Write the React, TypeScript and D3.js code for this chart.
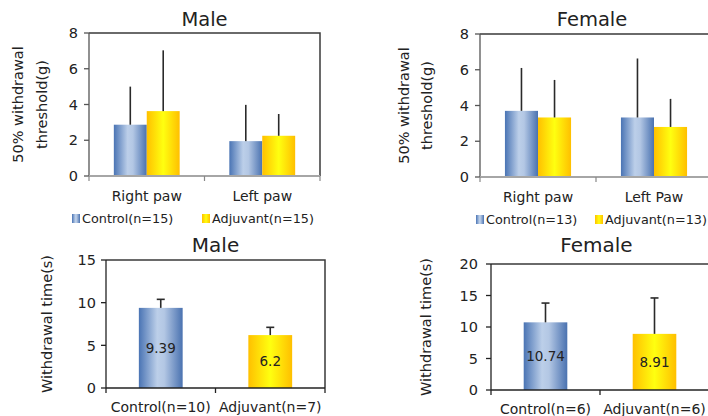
import * as d3 from "d3";

// top row: 50% withdrawal threshold (g)
const pawCategories = ["Right paw", "Left paw"];
const pawCategoriesF = ["Right paw", "Left Paw"];
const maleControl = [2.87, 1.95];
const maleControlErr = [2.13, 2.03];
const maleAdjuvant = [3.63, 2.25];
const maleAdjuvantErr = [3.4, 1.22];
const femaleControl = [3.7, 3.33];
const femaleControlErr = [2.4, 3.3];
const femaleAdjuvant = [3.33, 2.8];
const femaleAdjuvantErr = [2.1, 1.57];

// bottom row: withdrawal time (s)
const maleTimeGroups = ["Control(n=10)", "Adjuvant(n=7)"];
const maleTime = [9.39, 6.2];
const maleTimeErr = [1.0, 0.91];
const femaleTimeGroups = ["Control(n=6)", "Adjuvant(n=6)"];
const femaleTime = [10.74, 8.91];
const femaleTimeErr = [3.06, 5.7];

const FONT = "'DejaVu Sans', Verdana, sans-serif";
const TXT = "#222";

interface PawProps {
  title: string;
  cats: string[];
  ctrl: number[];
  ctrlErr: number[];
  adj: number[];
  adjErr: number[];
  legendCtrl: string;
  legendAdj: string;
  x0: number;
  x1: number;
  y0: number;
  y1: number;
  legendX: [number, number];
  labelX: [number, number];
}

function Defs() {
  return (
    <defs>
      <linearGradient id="gBlue" x1="0" x2="1" y1="0" y2="0">
        <stop offset="0%" stopColor="#4a74b4" />
        <stop offset="42%" stopColor="#bccfe9" />
        <stop offset="58%" stopColor="#b3c7e4" />
        <stop offset="100%" stopColor="#4a72b0" />
      </linearGradient>
      <linearGradient id="gYellow" x1="0" x2="1" y1="0" y2="0">
        <stop offset="0%" stopColor="#ffc000" />
        <stop offset="50%" stopColor="#ffff10" />
        <stop offset="100%" stopColor="#ffbf00" />
      </linearGradient>
    </defs>
  );
}

function PawPanel(p: PawProps) {
  const x = d3.scaleBand<string>().domain(p.cats).range([p.x0, p.x1]).padding(0);
  const y = d3.scaleLinear().domain([0, 8]).range([p.y1, p.y0]);
  const groupW = x.bandwidth() * 0.57;
  const sub = d3.scaleBand<string>().domain(["c", "a"]).range([0, groupW]).padding(0);
  const ticks = d3.range(0, 9, 2);
  const series = [
    { key: "c", vals: p.ctrl, err: p.ctrlErr, fill: "url(#gBlue)" },
    { key: "a", vals: p.adj, err: p.adjErr, fill: "url(#gYellow)" },
  ];
  return (
    <g fontFamily={FONT}>
      <text x={(p.x0 + Math.min(p.x1, 708)) / 2 + (p.x1 > 708 ? -2 : 0)} y={26} textAnchor="middle" fontSize={19.5} fill={TXT}>
        {p.title}
      </text>
      {/* frame */}
      <path d={`M${p.x0},${p.y0}H${p.x1}V${p.y1}`} fill="none" stroke="#3a3a3a" strokeWidth={1.5} />
      {series.map((s) =>
        p.cats.map((c, i) => {
          const bx = (x(c) as number) + (x.bandwidth() - groupW) / 2 + (sub(s.key) as number);
          return (
            <rect key={s.key + c} x={bx} y={y(s.vals[i])} width={sub.bandwidth()} height={y(0) - y(s.vals[i])} fill={s.fill} />
          );
        })
      )}
      {series.map((s) =>
        p.cats.map((c, i) => {
          const cx = (x(c) as number) + (x.bandwidth() - groupW) / 2 + (sub(s.key) as number) + sub.bandwidth() / 2;
          return (
            <line key={"e" + s.key + c} x1={cx} x2={cx} y1={y(s.vals[i])} y2={y(s.vals[i] + s.err[i])} stroke="#2a2a2a" strokeWidth={1.6} />
          );
        })
      )}
      {/* y axis */}
      <line x1={p.x0} x2={p.x0} y1={p.y0} y2={p.y1} stroke="#555" strokeWidth={1.3} />
      {ticks.map((t) => (
        <g key={t}>
          <line x1={p.x0 - 5} x2={p.x0} y1={y(t)} y2={y(t)} stroke="#555" strokeWidth={1.3} />
          <text x={p.x0 - 11} y={y(t)} dy="0.36em" textAnchor="end" fontSize={14.5} fill={TXT}>
            {t}
          </text>
        </g>
      ))}
      {/* x axis */}
      <line x1={p.x0} x2={p.x1} y1={p.y1} y2={p.y1} stroke="#a6a6a6" strokeWidth={1.8} />
      {[...p.cats.map((c) => x(c) as number), p.x1].map((v, i) => (
        <line key={"t" + i} x1={v} x2={v} y1={p.y1} y2={p.y1 + 5} stroke="#888" strokeWidth={1.2} />
      ))}
      {p.cats.map((c) => (
        <text key={"l" + c} x={(x(c) as number) + x.bandwidth() / 2} y={p.y1 + 25} textAnchor="middle" fontSize={14} fill={TXT}>
          {c}
        </text>
      ))}
      {/* y label */}
      <text transform={`translate(${p.labelX[0]},${(p.y0 + p.y1) / 2}) rotate(-90)`} textAnchor="middle" fontSize={14.5} fill={TXT} dy="0.35em">
        50% withdrawal
      </text>
      <text transform={`translate(${p.labelX[1]},${(p.y0 + p.y1) / 2}) rotate(-90)`} textAnchor="middle" fontSize={14.5} fill={TXT} dy="0.35em">
        threshold(g)
      </text>
      {/* legend */}
      <rect x={p.legendX[0]} y={p.y1 + 38} width={8} height={9} fill="url(#gBlue)" />
      <text x={p.legendX[0] + 10} y={p.y1 + 42.5} dy="0.35em" fontSize={12.8} fill={TXT}>
        {p.legendCtrl}
      </text>
      <rect x={p.legendX[1]} y={p.y1 + 38} width={8} height={9} fill="url(#gYellow)" />
      <text x={p.legendX[1] + 10} y={p.y1 + 42.5} dy="0.35em" fontSize={12.8} fill={TXT}>
        {p.legendAdj}
      </text>
    </g>
  );
}

interface TimeProps {
  title: string;
  groups: string[];
  vals: number[];
  err: number[];
  ymax: number;
  x0: number;
  x1: number;
  y0: number;
  y1: number;
  labelX: number;
  tickLabelX: number;
}

function TimePanel(p: TimeProps) {
  const x = d3.scaleBand<string>().domain(p.groups).range([p.x0, p.x1]).padding(0);
  const y = d3.scaleLinear().domain([0, p.ymax]).range([p.y1, p.y0]);
  const barW = x.bandwidth() * 0.4;
  const fills = ["url(#gBlue)", "url(#gYellow)"];
  const ticks = d3.range(0, p.ymax + 1, 5);
  return (
    <g fontFamily={FONT}>
      <text x={(p.x0 + Math.min(p.x1, 708)) / 2 + (p.x1 > 708 ? -3 : 0)} y={252} textAnchor="middle" fontSize={20} fill={TXT}>
        {p.title}
      </text>
      <path d={`M${p.x0},${p.y0}H${p.x1}V${p.y1}`} fill="none" stroke="#3a3a3a" strokeWidth={1.5} />
      {p.groups.map((g, i) => {
        const cx = (x(g) as number) + x.bandwidth() / 2;
        return (
          <g key={g}>
            <rect x={cx - barW / 2} y={y(p.vals[i])} width={barW} height={y(0) - y(p.vals[i])} fill={fills[i]} />
            <line x1={cx} x2={cx} y1={y(p.vals[i])} y2={y(p.vals[i] + p.err[i])} stroke="#2a2a2a" strokeWidth={1.6} />
            <line x1={cx - 4} x2={cx + 4} y1={y(p.vals[i] + p.err[i])} y2={y(p.vals[i] + p.err[i])} stroke="#2a2a2a" strokeWidth={1.6} />
            <text x={cx} y={y(p.vals[i] / 2)} dy="0.35em" textAnchor="middle" fontSize={13.5} fill={TXT}>
              {p.vals[i]}
            </text>
            <text x={cx} y={p.y1 + 24} textAnchor="middle" fontSize={14} fill={TXT}>
              {g}
            </text>
          </g>
        );
      })}
      <line x1={p.x0} x2={p.x0} y1={p.y0} y2={p.y1} stroke="#222" strokeWidth={1.3} />
      {ticks.map((t) => (
        <g key={t}>
          <line x1={p.x0 - 5} x2={p.x0} y1={y(t)} y2={y(t)} stroke="#222" strokeWidth={1.3} />
          <text x={p.tickLabelX} y={y(t)} dy="0.36em" textAnchor="end" fontSize={14.5} fill={TXT}>
            {t}
          </text>
        </g>
      ))}
      <line x1={p.x0} x2={p.x1} y1={p.y1} y2={p.y1} stroke="#222" strokeWidth={1.5} />
      {[...p.groups.map((g) => x(g) as number), p.x1].map((v, i) => (
        <line key={"t" + i} x1={v} x2={v} y1={p.y1} y2={p.y1 + 5} stroke="#222" strokeWidth={1.3} />
      ))}
      <text transform={`translate(${p.labelX},${(p.y0 + p.y1) / 2}) rotate(-90)`} textAnchor="middle" fontSize={14.5} fill={TXT} dy="0.35em">
        Withdrawal time(s)
      </text>
    </g>
  );
}

export default function App() {
  return (
    <svg width={708} height={416} style={{ position: "fixed", left: 0, top: 0, background: "#fff" }}>
      <Defs />
      <rect width={708} height={416} fill="#fff" />
      <PawPanel
        title="Male"
        cats={pawCategories}
        ctrl={maleControl}
        ctrlErr={maleControlErr}
        adj={maleAdjuvant}
        adjErr={maleAdjuvantErr}
        legendCtrl="Control(n=15)"
        legendAdj="Adjuvant(n=15)"
        x0={89}
        x1={320}
        y0={33}
        y1={176}
        legendX={[72, 202]}
        labelX={[18, 42]}
      />
      <PawPanel
        title="Female"
        cats={pawCategoriesF}
        ctrl={femaleControl}
        ctrlErr={femaleControlErr}
        adj={femaleAdjuvant}
        adjErr={femaleAdjuvantErr}
        legendCtrl="Control(n=13)"
        legendAdj="Adjuvant(n=13)"
        x0={480}
        x1={712}
        y0={34}
        y1={177}
        legendX={[476, 595]}
        labelX={[404, 427]}
      />
      <TimePanel
        title="Male"
        groups={maleTimeGroups}
        vals={maleTime}
        err={maleTimeErr}
        ymax={15}
        x0={106}
        x1={325}
        y0={260}
        y1={388}
        labelX={47}
        tickLabelX={96}
      />
      <TimePanel
        title="Female"
        groups={femaleTimeGroups}
        vals={femaleTime}
        err={femaleTimeErr}
        ymax={20}
        x0={491}
        x1={709}
        y0={264}
        y1={390}
        labelX={426}
        tickLabelX={478}
      />
    </svg>
  );
}
